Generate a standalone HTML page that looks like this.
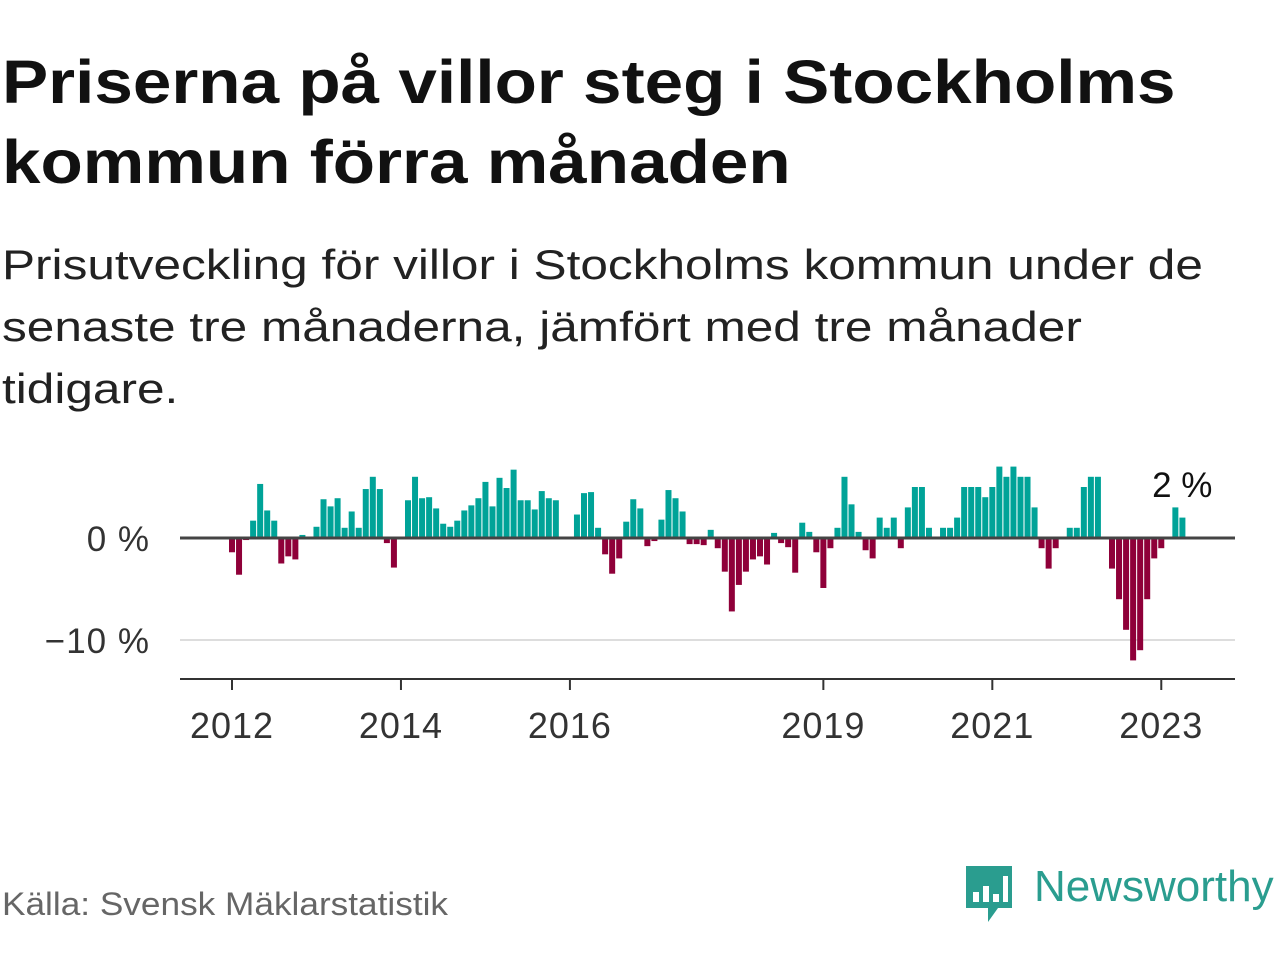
<!DOCTYPE html>
<html><head><meta charset="utf-8">
<style>
html,body{margin:0;padding:0;background:#fff;}
body{width:1280px;height:960px;position:relative;overflow:hidden;font-family:"Liberation Sans",sans-serif;color:#111;}
#title{position:absolute;left:2px;top:42px;margin:0;font-size:61px;line-height:80px;font-weight:bold;color:#111;transform:scaleX(1.135);transform-origin:0 0;white-space:nowrap;}
#subtitle{position:absolute;left:2px;top:234px;margin:0;font-size:42px;line-height:62px;color:#222;transform:scaleX(1.18);transform-origin:0 0;white-space:nowrap;}
#source{position:absolute;left:2px;top:886px;font-size:32px;color:#666;transform:scaleX(1.1);transform-origin:0 0;white-space:nowrap;}
#logo{position:absolute;left:962px;top:864px;}
#logotext{position:absolute;left:1034px;top:862px;font-size:44px;color:#2a9d8f;white-space:nowrap;}
svg text{font-family:"Liberation Sans",sans-serif;}
</style></head>
<body>
<h1 id="title">Priserna på villor steg i Stockholms<br>kommun förra månaden</h1>
<p id="subtitle">Prisutveckling för villor i Stockholms kommun under de<br>senaste tre månaderna, jämfört med tre månader<br>tidigare.</p>
<svg id="chart" width="1280" height="960" style="position:absolute;left:0;top:0" xmlns="http://www.w3.org/2000/svg"></svg>
<div id="source">Källa: Svensk Mäklarstatistik</div>
<svg id="logo" width="56" height="64" viewBox="0 0 56 64">
<path d="M4 2 H50 V44 H36 L26 58 V44 H4 Z" fill="#2a9d8f"/>
<rect x="11" y="28" width="6" height="10" fill="#fff"/>
<rect x="21" y="22" width="6" height="16" fill="#fff"/>
<rect x="31" y="30" width="6" height="8" fill="#fff"/>
<rect x="41" y="12" width="5" height="26" fill="#fff"/>
</svg>
<div id="logotext">Newsworthy</div>
<script>
// Monthly values, Jan 2012 .. Apr 2023
const startYear = 2012;
const values = [
-1.4,-3.6,-0.2,1.7,5.3,2.7,1.7,-2.5,-1.8,-2.1,0.3,0,
1.1,3.8,3.1,3.9,1.0,2.6,1.0,4.8,6.0,4.8,-0.5,-2.9,
0,3.7,6.0,3.9,4.0,2.9,1.4,1.1,1.7,2.7,3.2,3.9,
5.5,3.1,5.9,4.9,6.7,3.7,3.7,2.8,4.6,3.9,3.7,0,
0,2.3,4.4,4.5,1.0,-1.6,-3.5,-2.0,1.6,3.8,2.9,-0.8,
-0.3,1.8,4.7,3.9,2.6,-0.6,-0.6,-0.7,0.8,-1.0,-3.3,-7.2,
-4.6,-3.3,-2.1,-1.8,-2.6,0.5,-0.5,-0.9,-3.4,1.5,0.6,-1.4,
-4.9,-1.0,1.0,6.0,3.3,0.6,-1.2,-2.0,2.0,1.0,2.0,-1.0,
3.0,5.0,5.0,1.0,0,1.0,1.0,2.0,5.0,5.0,5.0,4.0,
5.0,7.0,6.0,7.0,6.0,6.0,3.0,-1.0,-3.0,-1.0,0,1.0,
1.0,5.0,6.0,6.0,0,-3.0,-6.0,-9.0,-12.0,-11.0,-6.0,-2.0,
-1.0,0,3.0,2.0
];
const xTickYears = [2012,2014,2016,2019,2021,2023];
const yTicks = [0,-10];
const yTickLabels = ["0 %","\u221210 %"];
const lastLabel = "2 %";

const svg = document.getElementById('chart');
const NS = 'http://www.w3.org/2000/svg';
const x0 = 232, monthW = 7.04;
function xScale(monthIndex){ return x0 + monthIndex*monthW; }
function yScale(v){ return 538 - v*10.2; }
function mk(tag, attrs){ const e=document.createElementNS(NS,tag); for(const k in attrs) e.setAttribute(k,attrs[k]); svg.appendChild(e); return e; }

yTicks.forEach((t,i)=>{
  if(t!==0){
    const g = mk('line',{x1:180,x2:1235,y1:yScale(t),y2:yScale(t),stroke:'#dddddd','stroke-width':2});
    
    
  }
  const tx = mk('text',{x:150,y:yScale(t)+13,'text-anchor':'end','font-size':35,'letter-spacing':1,fill:'#333'});
  tx.textContent = yTickLabels[i];
  
  
});

values.forEach((v,i)=>{
  const cx = xScale(i);
  const y = v>=0 ? yScale(v) : yScale(0);
  const h = Math.abs(yScale(v)-yScale(0));
  const r = mk('rect',{x:cx-3,y:y,width:6,height:h,fill: v>=0 ? '#00a398' : '#8f0039'});
  
  
});

const zl = mk('line',{x1:180,x2:1235,y1:yScale(0),y2:yScale(0),stroke:'#444','stroke-width':3});



const ax = mk('line',{x1:180,x2:1235,y1:679,y2:679,stroke:'#333','stroke-width':2});



xTickYears.forEach(yr=>{
  const cx = xScale((yr-startYear)*12);
  const tk = mk('line',{x1:cx,x2:cx,y1:679,y2:690,stroke:'#333','stroke-width':2});
  
  
  const t = mk('text',{x:cx,y:738,'text-anchor':'middle','font-size':36,'letter-spacing':1,fill:'#333'});
  t.textContent = yr;
  
  
});

const li = values.length-1;
const lab = mk('text',{x:xScale(li)+30,y:497,'text-anchor':'end','font-size':35,fill:'#111'});
lab.textContent = lastLabel;


</script>
</body></html>
